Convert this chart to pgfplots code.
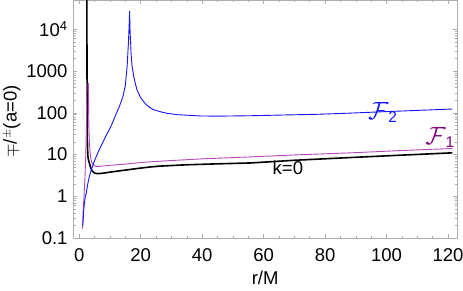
\documentclass[border=0pt]{standalone}
\usepackage{pgfplots}
\pgfplotsset{compat=1.18}
\usepackage{fontspec}
\setmainfont{Liberation Sans}
\usetikzlibrary{calc}
\definecolor{fblue}{rgb}{0.08,0.08,1}
\definecolor{fpurp}{RGB}{180,70,190}
\definecolor{flab}{RGB}{128,0,128}
\definecolor{framec}{gray}{0.68}
\newcommand{\bigf}{\fontsize{18.5}{22}\selectfont}
\begin{document}
\begin{tikzpicture}[font=\bigf]
\begin{axis}[
 scale only axis, width=384pt, height=238pt,
 ymode=log, xmin=-2, xmax=123, ymin=0.1, ymax=5e4,
 axis line style={framec, line width=0.6pt},
 every tick/.style={framec, line width=0.5pt},
 major tick length=4pt, minor tick length=2.5pt,
 xtick={0,20,40,60,80,100,120}, xticklabels={0,20,40,60,80,100,120},
 minor x tick num=3,
 ytick={0.1,1,10,100,1000,10000},
 yticklabels={0.1,1,10,100,1000,10\textsuperscript{4}},
 tick label style={font=\bigf},
 label style={font=\bigf},
 xticklabel style={anchor=center, yshift=-16.5pt},
 yticklabel style={anchor=east, xshift=-2pt},
 xlabel={r/M},
 xlabel style={at={(axis description cs:0.5,0)}, anchor=center, yshift=-40pt},
 ylabel={$\mp$/\textsuperscript{$\pm$}(a=0)},
 ylabel style={at={(axis description cs:-0.159,0.49)}, anchor=center},
]
% black k=0
\addplot[black, line width=1.6pt] coordinates {
(2.48,80000) (2.52,5000) (2.56,500) (2.62,60) (2.7,15) (2.85,9) (3.0,7.5) (3.36,6.1)
(3.7,5.0) (4.1,4.2) (4.6,3.8) (5.2,3.55) (6.2,3.5) (7.9,3.6) (10,3.8) (14.4,4.2)
(20,4.75) (23.1,5.05) (26.4,5.3) (35,5.7) (45,6.0) (55.7,6.3) (70,7.3) (88.3,8.5)
(105,9.7) (121.4,11.0)};
% purple F1 left branch
\addplot[fpurp, line width=0.9pt] coordinates {
(1.05,0.17) (1.3,0.45) (1.6,1.1) (1.9,3) (2.1,8) (2.25,20) (2.4,80) (2.5,500)};
% purple F1 right branch
\addplot[fpurp, line width=0.9pt] coordinates {
(3.0,520) (3.05,200) (3.1,80) (3.2,35) (3.3,22) (3.5,12) (3.8,7.8) (4.2,6.2)
(4.8,5.5) (5.5,5.2) (6.5,5.2) (8,5.35) (11,5.6) (14.4,5.85) (18.6,6.3) (23.1,6.7)
(30,7.2) (40,7.9) (55.7,8.8) (70,9.8) (88.3,11.0) (105,12.5) (121.4,14.0)};
% blue F2
\addplot[fblue, line width=0.9pt] coordinates {
(1.2,0.2) (1.4,0.4) (1.7,0.7) (2.0,1.0) (2.3,1.2) (2.8,2.0) (3.3,3.0) (3.9,4.2)
(4.6,6.0) (5.5,8.8) (6.5,13) (7.6,19) (8.8,29) (10,42) (11,62) (12.1,97)
(13.2,150) (14.2,240) (15.0,450) (15.6,1300) (16.0,4500) (16.25,12000) (16.4,27000)
(16.55,9000) (16.9,2500) (17.2,1300) (17.8,700) (18.8,350) (20,230) (21.5,165)
(22.6,140) (24,120) (26.4,106) (28.6,97) (32,90) (39.4,84) (45,83) (55.7,85)
(65,88) (77.4,92) (88,98) (99,106) (110,114) (121.4,123)};
\node[text=fblue, inner sep=0pt] at (axis cs:98.7,99) {\fontsize{24}{24}\selectfont$\mathcal{F}$\raisebox{-3pt}{\fontsize{15.5}{15.5}\selectfont 2}};
\node[text=flab, inner sep=0pt] at (axis cs:117.3,25.5) {\fontsize{24}{24}\selectfont$\mathcal{F}$\raisebox{-3pt}{\fontsize{15.5}{15.5}\selectfont 1}};
\node[text=black, inner sep=0pt] at (axis cs:67.9,4.84) {k=0};
\coordinate (A) at (rel axis cs:0,0);
\coordinate (B) at (rel axis cs:1,1);
\end{axis}
\pgfresetboundingbox
\path ($(A)+(-73pt,-52pt)$) rectangle ($(B)+(5.7pt,0pt)$);
\end{tikzpicture}
\end{document}
